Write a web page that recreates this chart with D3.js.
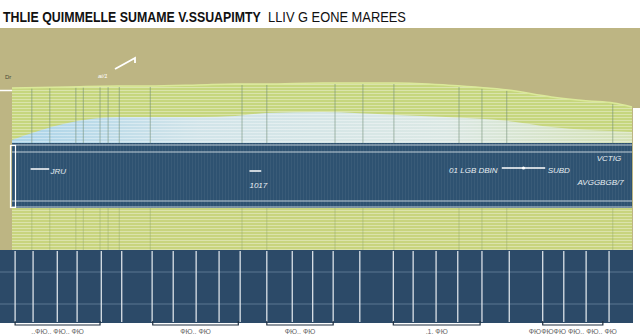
<!DOCTYPE html>
<html>
<head>
<meta charset="utf-8">
<script src="https://cdn.jsdelivr.net/npm/d3@7"></script>
<style>
  body { margin: 0; background: #fff; }
  text { font-family: "Liberation Sans", Arial, sans-serif; }
</style>
</head>
<body>
<div id="chart"></div>
<script>
// data
var titleBold = "THLIE  QUIMMELLE  SUMAME V.SSUAPIMTY";
var titleRest = "LLIV G EONE MAREES";

var xs       = [0, 9, 17, 22, 30, 36, 41, 50, 62, 70, 80, 87, 93, 97, 100];
var greenTop = [55, 56, 57, 57, 58, 59, 59, 60, 60, 58, 53, 46, 42, 40, 36];
var blueTop  = [3, 20, 26, 26, 26, 27, 30, 31, 28, 26, 22, 16, 13, 12, 11];

var gridX = [3.2, 6.1, 10.3, 11.5, 14.2, 15.5, 17.3, 22.3, 37.1, 41.1, 52.1, 56.6, 61.6, 72.1, 75.8, 79.8, 96.9];
var colX  = [0.5, 3.4, 7.3, 10.5, 14.4, 17.7, 22.6, 26, 29.7, 33.4, 36.8, 41.1, 45.2, 48.5, 51.8,
             56.1, 61.5, 64.7, 68.4, 71.9, 75.8, 80.2, 85.6, 89, 92.6, 96.3];

var brackets = [
  {from: 0.5,  to: 14.2, label: "..ФЮ.. ФЮ.. ФЮ"},
  {from: 22.7, to: 36.5, label: "ФЮ.. ФЮ"},
  {from: 41.1, to: 51.8, label: "ФЮ.. ФЮ"},
  {from: 61.5, to: 75.5, label: ".1. ФЮ"},
  {from: 85.6, to: 95.3, label: "ФЮФЮФЮ ФЮ.. ФЮ.. ФЮ"}
];

// annotation text positions (x in data units, y as value below the band top)
var notes = [
  {x: 6.2,  y: -31, text: "JRU",         line: [3, 6, -29]},
  {x: 38.3, y: -45, text: "1017",        line: [38.3, 40.2, -31]},
  {x: 70.5, y: -30, text: "01 LGB DBIN", line: null},
  {x: 86.4, y: -30, text: "SUBD",        line: [79, 86, -28]},
  {x: 94.3, y: -18, text: "VCTIG",       line: null},
  {x: 91.2, y: -42, text: "AVGGBGB/7",   line: null}
];

var width = 640, height = 336;

var svg = d3.select("#chart")
  .append("svg")
    .attr("width", width)
    .attr("height", height);

var x = d3.scaleLinear().domain([0, 100]).range([12, 632]);
var y = d3.scaleLinear().domain([0, 100]).range([143, 43]);

// stripe patterns
var defs = svg.append("defs");
var stripe = defs.append("pattern")
  .attr("id", "stripes")
  .attr("width", 6).attr("height", 3)
  .attr("patternUnits", "userSpaceOnUse");
stripe.append("rect").attr("width", 6).attr("height", 1)
  .attr("fill", "#ffffff").attr("opacity", 0.35);

var vstripe = defs.append("pattern")
  .attr("id", "vstripes")
  .attr("width", 3).attr("height", 6)
  .attr("patternUnits", "userSpaceOnUse");
vstripe.append("rect").attr("width", 1).attr("height", 6)
  .attr("fill", "#ffffff").attr("opacity", 0.05);

var blueGrad = defs.append("linearGradient")
  .attr("id", "blueGrad")
  .attr("x1", 0).attr("x2", 1).attr("y1", 0).attr("y2", 0);
blueGrad.append("stop").attr("offset", "0%").attr("stop-color", "#a9d3ee");
blueGrad.append("stop").attr("offset", "30%").attr("stop-color", "#d2e5ef");
blueGrad.append("stop").attr("offset", "70%").attr("stop-color", "#dce9ea");
blueGrad.append("stop").attr("offset", "100%").attr("stop-color", "#d5e2b8");

// title, two parts squeezed horizontally to fit their spans
function squeezeText(str, x0, target, bold) {
  var t = svg.append("text")
    .attr("x", 0).attr("y", 0)
    .style("font-size", "14px")
    .style("font-weight", bold ? "bold" : "normal")
    .attr("fill", "#111")
    .text(str);
  var w = t.node().getComputedTextLength();
  t.attr("transform", "translate(" + x0 + ",22) scale(" + (target / w) + ",1)");
}
squeezeText(titleBold, 3, 258, true);
squeezeText(titleRest, 268, 138, false);

// tan backdrop
svg.append("rect")
  .attr("x", 0).attr("y", 28)
  .attr("width", width).attr("height", 222)
  .attr("fill", "#bdb583");
svg.append("rect")
  .attr("x", x(100) + 1).attr("y", 108)
  .attr("width", 8).attr("height", 142)
  .attr("fill", "#ffffff");

// green area
var greenArea = d3.area()
  .x(function(d, i) { return x(xs[i]); })
  .y0(y(0))
  .y1(function(d) { return y(d); })
  .curve(d3.curveMonotoneX);

svg.append("path")
  .datum(greenTop)
  .attr("fill", "#c6d67e")
  .attr("d", greenArea);

// light blue area
svg.append("path")
  .datum(blueTop)
  .attr("fill", "url(#blueGrad)")
  .attr("opacity", 0.95)
  .attr("d", greenArea);

// stripes over both
svg.append("path")
  .datum(greenTop)
  .attr("fill", "url(#stripes)")
  .attr("d", greenArea);

// green top edge
svg.append("path")
  .datum(greenTop)
  .attr("fill", "none")
  .attr("stroke", "#dbe99a")
  .attr("stroke-width", 1.5)
  .attr("d", d3.line()
    .x(function(d, i) { return x(xs[i]); })
    .y(function(d) { return y(d); })
    .curve(d3.curveMonotoneX));

// vertical grid in the upper area
var interp = function(arr, v) {
  for (var i = 1; i < xs.length; i++) {
    if (v <= xs[i]) {
      var t = (v - xs[i - 1]) / (xs[i] - xs[i - 1]);
      return arr[i - 1] + t * (arr[i] - arr[i - 1]);
    }
  }
  return arr[arr.length - 1];
};

svg.append("g")
  .selectAll("line")
  .data(gridX)
  .join("line")
    .attr("x1", function(d) { return x(d); })
    .attr("x2", function(d) { return x(d); })
    .attr("y1", function(d) { return y(interp(greenTop, d)) + 1; })
    .attr("y2", y(0))
    .attr("stroke", "#6f8a72")
    .attr("stroke-width", 0.8)
    .attr("opacity", 0.7);

// navy band
svg.append("rect")
  .attr("x", x(0)).attr("y", y(0))
  .attr("width", x(100) - x(0)).attr("height", 65)
  .attr("fill", "#2e5271");
svg.append("rect")
  .attr("x", x(0)).attr("y", y(0))
  .attr("width", x(100) - x(0)).attr("height", 65)
  .attr("fill", "url(#vstripes)");

[145, 152, 201, 207].forEach(function(v) {
  svg.append("line")
    .attr("x1", x(0)).attr("x2", x(100))
    .attr("y1", v).attr("y2", v)
    .attr("stroke", "#e6eef2")
    .attr("stroke-width", 1)
    .attr("opacity", 0.8);
});

// left frame bits
svg.append("rect")
  .attr("x", 10.5).attr("y", 145.5)
  .attr("width", 5).attr("height", 62)
  .attr("fill", "none")
  .attr("stroke", "#ffffff").attr("stroke-width", 1.2);
svg.append("line")
  .attr("x1", 0).attr("x2", x(0))
  .attr("y1", 90.5).attr("y2", 90.5)
  .attr("stroke", "#ffffff").attr("stroke-width", 1.5);

// lower green band
svg.append("rect")
  .attr("x", x(0)).attr("y", 208)
  .attr("width", x(100) - x(0)).attr("height", 42)
  .attr("fill", "#c8d47e");
svg.append("rect")
  .attr("x", x(0)).attr("y", 208)
  .attr("width", x(100) - x(0)).attr("height", 42)
  .attr("fill", "url(#stripes)");
svg.append("g")
  .selectAll("line")
  .data(gridX)
  .join("line")
    .attr("x1", function(d) { return x(d); })
    .attr("x2", function(d) { return x(d); })
    .attr("y1", 208).attr("y2", 250)
    .attr("stroke", "#8fa56a")
    .attr("stroke-width", 0.7)
    .attr("opacity", 0.6);

// annotations in the navy band
var noteG = svg.append("g");
notes.forEach(function(n) {
  if (n.line) {
    noteG.append("line")
      .attr("x1", x(n.line[0])).attr("x2", x(n.line[1]))
      .attr("y1", y(n.line[2]) - 3).attr("y2", y(n.line[2]) - 3)
      .attr("stroke", "#ffffff").attr("stroke-width", 1.5);
  }
  noteG.append("text")
    .attr("x", x(n.x)).attr("y", y(n.y))
    .style("font-size", "8px")
    .style("font-style", "italic")
    .attr("fill", "#e8eef2")
    .text(n.text);
});
noteG.append("circle")
  .attr("cx", x(82.5)).attr("cy", y(-28) - 3)
  .attr("r", 1.6).attr("fill", "#ffffff");

// labels up in the tan area
svg.append("text")
  .attr("x", 5).attr("y", 79)
  .style("font-size", "6px")
  .attr("fill", "#4a4a3a")
  .text("Dr");
svg.append("text")
  .attr("x", 98).attr("y", 78)
  .style("font-size", "6px")
  .style("font-style", "italic")
  .attr("fill", "#ffffff")
  .text("ai/1");
svg.append("path")
  .attr("d", "M115,69 L135,58 L135,63")
  .attr("fill", "none")
  .attr("stroke", "#ffffff")
  .attr("stroke-width", 1.8);

// bottom navy panel
svg.append("rect")
  .attr("x", 0).attr("y", 250)
  .attr("width", x(100) + 1).attr("height", 73)
  .attr("fill", "#2c4a68");
[272, 304].forEach(function(v) {
  svg.append("line")
    .attr("x1", 0).attr("x2", x(100) + 1)
    .attr("y1", v).attr("y2", v)
    .attr("stroke", "#5a7791")
    .attr("stroke-width", 1);
});
svg.append("g")
  .selectAll("line")
  .data(colX)
  .join("line")
    .attr("x1", function(d) { return x(d); })
    .attr("x2", function(d) { return x(d); })
    .attr("y1", 251).attr("y2", 322)
    .attr("stroke", "#e9eef2")
    .attr("stroke-width", 1.2);

// brackets + labels at the bottom
var br = svg.append("g")
  .selectAll("g")
  .data(brackets)
  .join("g");
br.append("path")
  .attr("d", function(d) {
    return "M" + x(d.from) + ",321 L" + x(d.from) + ",325 L" + x(d.to) + ",325 L" + x(d.to) + ",321";
  })
  .attr("fill", "none")
  .attr("stroke", "#1f2f40")
  .attr("stroke-width", 1.2);
br.append("text")
  .attr("x", function(d) { return (x(d.from) + x(d.to)) / 2; })
  .attr("y", 334)
  .attr("text-anchor", "middle")
  .style("font-size", "7px")
  .attr("fill", "#666")
  .text(function(d) { return d.label; });
</script>
</body>
</html>
